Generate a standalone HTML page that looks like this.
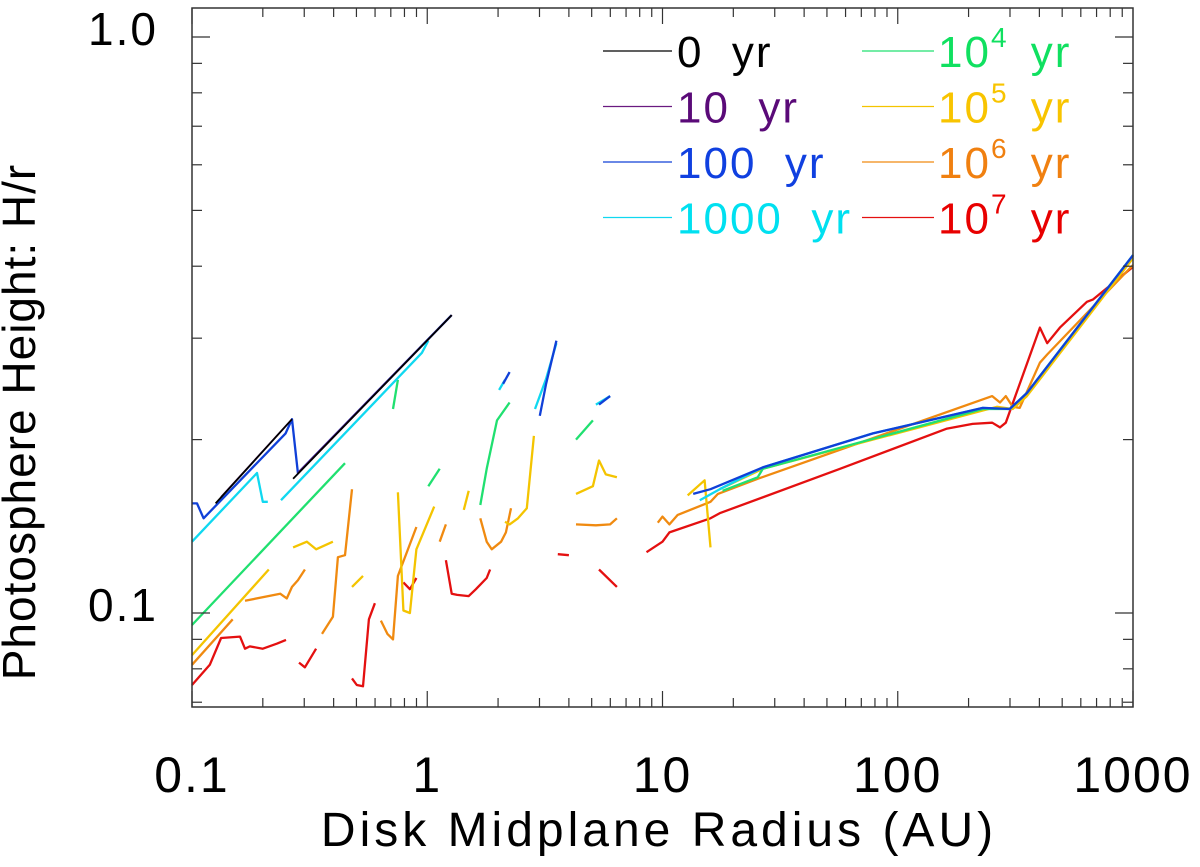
<!DOCTYPE html>
<html><head><meta charset="utf-8"><style>
html,body{margin:0;padding:0;background:#fff;}
svg{display:block;font-family:"Liberation Sans",sans-serif;}
</style></head><body>
<svg id="chart" width="1200" height="867" viewBox="0 0 1200 867">
<rect x="0" y="0" width="1200" height="867" fill="#fff"/>
<g id="series"></g>
<g id="axes"></g>
<g id="legend"></g>
<text x="35" y="422" font-size="46" letter-spacing="1" text-anchor="middle" transform="rotate(-90 35 422)" fill="#000">Photosphere Height: H/r</text>
<text x="659" y="846" font-size="48" letter-spacing="4" text-anchor="middle" fill="#000">Disk Midplane Radius (AU)</text>
</svg>
<script>
const xTicks = [0.1, 1, 10, 100, 1000];
const xTickLabels = ["0.1", "1", "10", "100", "1000"];
const yTicks = [0.1, 1.0];
const yTickLabels = ["0.1", "1.0"];
const seriesNames = ["0 yr","10 yr","100 yr","1000 yr","1e4 yr","1e5 yr","1e6 yr","1e7 yr"];
const s0 = [[[0.126,0.155],[0.266,0.217]],[[0.269,0.171],[1.27,0.329]]];
const s10 = [[[0.133,0.159],[0.266,0.217]],[[0.282,0.175],[1.27,0.329]]];
const s100 = [[[0.1,0.155],[0.105,0.155],[0.112,0.146],[0.25,0.205],[0.266,0.217],[0.282,0.175],[1.27,0.329]],
 [[2.10,0.250],[2.24,0.262]],[[3.01,0.220],[3.2,0.25],[3.54,0.297]],[[5.37,0.230],[5.99,0.238]],
 [[13.5,0.161],[16.0,0.164],[26.7,0.179],[78.4,0.205],[230,0.227],[299,0.226],[354,0.241],[1000,0.418]]];
const s1000 = [[[0.1,0.133],[0.189,0.175],[0.200,0.156],[0.210,0.156]],[[0.239,0.157],[0.949,0.283],[1.01,0.297]],
 [[2.02,0.244],[2.14,0.254]],[[2.87,0.226],[3.2,0.255],[3.54,0.294]],[[5.21,0.230],[5.99,0.238]],
 [[14.4,0.157],[17.5,0.164],[26.7,0.179],[78.4,0.205],[230,0.227],[299,0.226],[354,0.241],[1000,0.418]]];
const s1e4 = [[[0.1,0.0953],[0.447,0.182]],[[0.715,0.226],[0.75,0.254]],[[1.01,0.166],[1.13,0.178]],
 [[1.68,0.154],[1.79,0.178],[1.98,0.216],[2.24,0.232]],[[4.29,0.200],[5.06,0.216]],
 [[18.0,0.163],[25.4,0.172],[26.7,0.178],[230,0.226],[299,0.226],[354,0.241],[1000,0.418]]];
const s1e5 = [[[0.1,0.0845],[0.212,0.119]],[[0.269,0.130],[0.308,0.133],[0.337,0.129],[0.397,0.133]],
 [[0.479,0.111],[0.533,0.116]],[[0.75,0.162],[0.792,0.101],[0.844,0.100],[0.899,0.129],[1.07,0.153]],
 [[1.43,0.151],[1.50,0.163]],[[2.14,0.144],[2.24,0.1425],[2.43,0.146],[2.65,0.152],[2.84,0.203]],
 [[4.29,0.161],[5.06,0.166],[5.37,0.184],[5.74,0.174],[6.40,0.172]],
 [[12.8,0.160],[15.1,0.170],[16.0,0.130]],
 [[17.5,0.164],[26.7,0.178],[264,0.228],[308,0.226],[354,0.238],[1000,0.413]]];
const s1e6 = [[[0.1,0.0813],[0.149,0.0975]],[[0.168,0.105],[0.237,0.108],[0.253,0.106],[0.266,0.111],[0.282,0.114],[0.302,0.119]],
 [[0.357,0.092],[0.397,0.0985],[0.417,0.125],[0.447,0.126],[0.479,0.164]],
 [[0.635,0.097],[0.677,0.092],[0.715,0.090],[0.75,0.116],[0.899,0.141]],
 [[1.13,0.133],[1.20,0.1425]],[[1.68,0.146],[1.79,0.133],[1.88,0.129],[2.06,0.133],[2.16,0.138],[2.27,0.152]],
 [[4.29,0.1425],[5.21,0.142],[5.99,0.1425],[6.40,0.146]],
 [[9.55,0.1435],[10.0,0.147],[10.7,0.1425],[11.6,0.148],[16.0,0.156],[17.2,0.161],[25.4,0.171],[252,0.238],[272,0.232],[288,0.238],[308,0.228],[330,0.227],[402,0.272],[432,0.281],[1000,0.402]]];
const s1e7 = [[[0.1,0.075],[0.119,0.0813],[0.133,0.0905],[0.160,0.091],[0.168,0.0867],[0.176,0.0875],[0.2,0.0867],[0.23,0.0885],[0.251,0.0898]],
 [[0.285,0.082],[0.302,0.0805],[0.337,0.0867]],
 [[0.479,0.077],[0.502,0.075],[0.533,0.0746],[0.565,0.0975],[0.599,0.104]],
 [[0.792,0.113],[0.844,0.110],[0.899,0.115]],
 [[1.20,0.1235],[1.27,0.108],[1.34,0.1075],[1.50,0.107],[1.61,0.110],[1.79,0.115],[1.85,0.119]],
 [[3.59,0.1265],[4.0,0.126]],[[5.37,0.119],[6.40,0.111]],
 [[8.55,0.1275],[10.0,0.133],[10.7,0.138],[16.0,0.146],[17.5,0.149],[56.8,0.178],[162,0.209],[208,0.213],[252,0.214],[272,0.210],[288,0.214],[402,0.313],[432,0.294],[489,0.313],[637,0.347],[675,0.350],[1000,0.399]]];
const seriesData = [s0,s10,s100,s1000,s1e4,s1e5,s1e6,s1e7];
const lineColors = ["#000000","#6a1a80","#1040d8","#10d8f0","#20e070","#f4c400","#f08a10","#e41010"];
const textColors = ["#000000","#5a0a78","#1040e0","#00e0f0","#10e060","#f8c400","#f08010","#e80000"];
const legendLabels = [["0",""],["10",""],["100",""],["1000",""],["10","4"],["10","5"],["10","6"],["10","7"]];

const X0=192, X1=1133, Y0=8, Y1=707;
const xmin=-1, xmax=3, ypx1=37, ypx01=613;
function xs(v){return X0+(Math.log10(v)-xmin)/(xmax-xmin)*(X1-X0);}
function ys(v){return ypx1-Math.log10(v)*(ypx01-ypx1);}
const NS="http://www.w3.org/2000/svg";
function mk(t,parent){const e=document.createElementNS(NS,t);parent.appendChild(e);return e;}

const sg=document.getElementById('series');
const drawOrder=[7,6,5,4,3,2,1,0];
drawOrder.forEach(i=>{
  seriesData[i].forEach((seg,j)=>{
    const p=mk('polyline',sg);
    p.setAttribute('points',seg.map(d=>xs(d[0]).toFixed(1)+','+ys(d[1]).toFixed(1)).join(' '));
    p.setAttribute('fill','none');
    p.setAttribute('stroke',lineColors[i]);
    p.setAttribute('stroke-width',i<2?1.8:2.3);
    p.setAttribute('stroke-linejoin','round');
    
    
  });
});

const ag=document.getElementById('axes');
const fr=mk('rect',ag);
fr.setAttribute('x',X0);fr.setAttribute('y',Y0);fr.setAttribute('width',X1-X0);fr.setAttribute('height',Y1-Y0);
fr.setAttribute('fill','none');fr.setAttribute('stroke','#333');fr.setAttribute('stroke-width','1.5');


function tick(x1,y1,x2,y2,name){const l=mk('line',ag);l.setAttribute('x1',x1);l.setAttribute('y1',y1);l.setAttribute('x2',x2);l.setAttribute('y2',y2);l.setAttribute('stroke','#333');l.setAttribute('stroke-width','1.2');

}
for(let dec=-1;dec<3;dec++){for(let m=1;m<10;m++){const v=m*Math.pow(10,dec);const x=xs(v);const len=m===1?16:9;
 tick(x,Y1,x,Y1-len,'x-tick');tick(x,Y0,x,Y0+len,'x-tick-top');}}
tick(X1,Y1,X1,Y1-16,'x-tick');
const yMinor=[0.07,0.08,0.09,0.1,0.2,0.3,0.4,0.5,0.6,0.7,0.8,0.9,1.0];
yMinor.forEach(v=>{const y=ys(v);const len=(v===0.1||v===1.0)?18:10;tick(X0,y,X0+len,y,'y-tick');tick(X1,y,X1-len,y,'y-tick-right');});
xTicks.forEach((v,i)=>{const t=mk('text',ag);t.textContent=xTickLabels[i];t.setAttribute('x',xs(v));t.setAttribute('y',792);t.setAttribute('font-size','50');t.setAttribute('letter-spacing','2');t.setAttribute('text-anchor','middle');

});
yTicks.forEach((v,i)=>{const t=mk('text',ag);t.textContent=yTickLabels[i];t.setAttribute('x',158);t.setAttribute('y',ys(v)+8);t.setAttribute('font-size','46');t.setAttribute('letter-spacing','2');t.setAttribute('text-anchor','end');

});

const lg=document.getElementById('legend');
for(let i=0;i<8;i++){
  const col=i<4?0:1, row=i%4;
  const lx0=col===0?603:862, lx1=col===0?672:934, tx=col===0?677:938;
  const y=51+row*55.5;
  const l=mk('line',lg);l.setAttribute('x1',lx0);l.setAttribute('x2',lx1);l.setAttribute('y1',y);l.setAttribute('y2',y);l.setAttribute('stroke',lineColors[i]);l.setAttribute('stroke-width','1.3');
  
  
  const t=mk('text',lg);t.setAttribute('x',tx);t.setAttribute('y',y+16);t.setAttribute('font-size','44');t.setAttribute('letter-spacing','2');t.setAttribute('fill',textColors[i]);
  
  
  const a=mk('tspan',t);a.textContent=legendLabels[i][0];
  if(legendLabels[i][1]){const b=mk('tspan',t);b.textContent=legendLabels[i][1];b.setAttribute('font-size','28');b.setAttribute('dy','-20');
   const c=mk('tspan',t);c.textContent='\u00a0yr';c.setAttribute('dy','20');c.setAttribute('dx','8');}
  else{const c=mk('tspan',t);c.textContent='\u00a0\u00a0yr';}
}
</script>
</body></html>
